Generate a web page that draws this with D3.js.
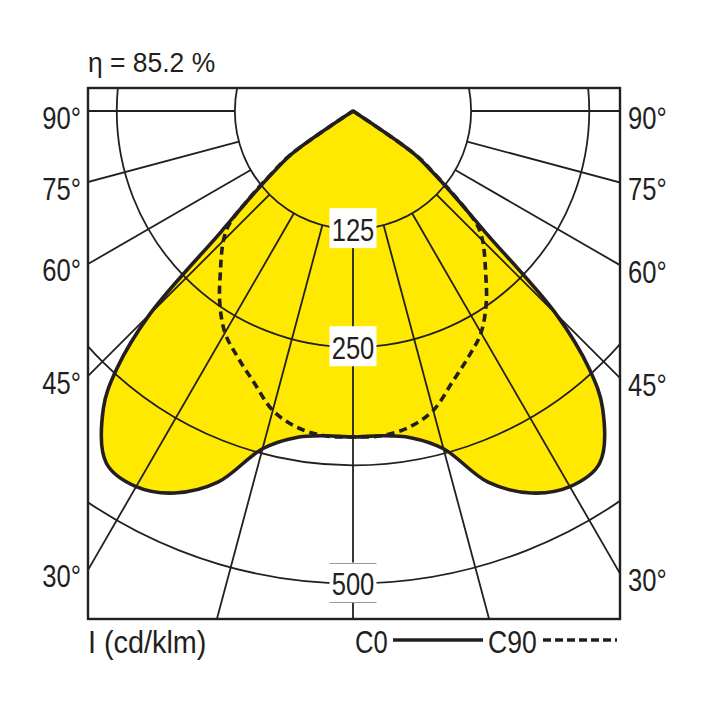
<!DOCTYPE html>
<html>
<head>
<meta charset="utf-8">
<script src="https://cdn.jsdelivr.net/npm/d3@7/dist/d3.min.js"></script>
<style>
  html, body { margin: 0; padding: 0; background: #fff; }
  svg { display: block; }
  text { font-family: "Liberation Sans", Arial, sans-serif; fill: #231f20; }
</style>
</head>
<body>
<svg id="chart" width="708" height="708"></svg>
<script>
// ---- data ----
const titleText = "η = 85.2 %";
const unitLabel = "I (cd/klm)";
const seriesNames = ["C0", "C90"];
const gridValues = [125, 250, 375, 500];
const ringLabels = [125, 250, 500];
const radialAngles = [0, 15, 30, 45, 60, 75, 90];
const angleLabels = [90, 75, 60, 45, 30];
const gammaDeg = [0, 5, 10, 15, 20, 25, 30, 35, 40, 42.5, 45, 47.5, 50, 52.5, 55, 57.5, 60, 65, 70, 75, 80, 85, 90];
const c0Values  = [345, 345, 351, 370, 418, 446, 459, 455, 411, 370, 304, 190, 140, 106, 79, 0, 0, 0, 0, 0, 0, 0, 0];
const c90Values = [345, 345, 340, 328, 306, 288, 271, 246, 218, 206, 194, 178, 142, 108, 81, 0, 0, 0, 0, 0, 0, 0, 0];

// ---- layout ----
const svg = d3.select("#chart");
const frame = { x0: 88, y0: 88, x1: 620, y1: 619 };
const cx = 353, cy = 111;
const ink = "#231f20";
const yellow = "#ffe900";
const r = d3.scaleLinear().domain([0, 500]).range([0, 472.5]);
const rad = d => d * Math.PI / 180;

function addText(parent, x, y, size, anchor, txt, sx = 0.8) {
  return parent.append("text")
    .attr("transform", `translate(${x},${y}) scale(${sx},1)`)
    .attr("text-anchor", anchor).attr("font-size", size).text(txt);
}

// polar (gamma from nadir, side +1 right / -1 left) -> cartesian
function pt(gamma, value, side) {
  const rr = r(value);
  return [cx + side * rr * Math.sin(rad(gamma)), cy + rr * Math.cos(rad(gamma))];
}

function curvePoints(values) {
  const pts = [];
  for (let i = gammaDeg.length - 1; i >= 0; i--) pts.push(pt(gammaDeg[i], values[i], 1));
  for (let i = 1; i < gammaDeg.length; i++) pts.push(pt(gammaDeg[i], values[i], -1));
  return pts.filter((p, i) => i === 0 || Math.hypot(p[0] - pts[i - 1][0], p[1] - pts[i - 1][1]) > 0.01);
}

const line = d3.line().curve(d3.curveCatmullRom.alpha(0.5));

svg.append("defs").append("clipPath").attr("id", "frameClip")
  .append("rect").attr("x", frame.x0).attr("y", frame.y0)
  .attr("width", frame.x1 - frame.x0).attr("height", frame.y1 - frame.y0);

// yellow fill (C0)
const c0Pts = curvePoints(c0Values);
svg.append("path").attr("d", line(c0Pts) + "Z").attr("fill", yellow).attr("stroke", "none");

// grid
const grid = svg.append("g").attr("clip-path", "url(#frameClip)")
  .attr("fill", "none").attr("stroke", ink).attr("stroke-width", 1.8);
grid.selectAll("circle").data(gridValues).join("circle")
  .attr("cx", cx).attr("cy", cy).attr("r", d => r(d));
const rays = [];
radialAngles.forEach(a => {
  rays.push([a, 1]);
  if (a !== 0) rays.push([a, -1]);
});
grid.selectAll("line").data(rays).join("line")
  .attr("x1", d => pt(d[0], gridValues[0], d[1])[0])
  .attr("y1", d => pt(d[0], gridValues[0], d[1])[1])
  .attr("x2", d => pt(d[0], 1200, d[1])[0])
  .attr("y2", d => pt(d[0], 1200, d[1])[1]);

// frame
svg.append("rect").attr("x", frame.x0).attr("y", frame.y0)
  .attr("width", frame.x1 - frame.x0).attr("height", frame.y1 - frame.y0)
  .attr("fill", "none").attr("stroke", ink).attr("stroke-width", 2.4);

// ring labels
const rl = svg.selectAll("g.ringlabel").data(ringLabels).join("g").attr("class", "ringlabel")
  .attr("transform", d => `translate(${cx},${cy + r(d)})`);
rl.append("rect").attr("x", -23.5).attr("y", -21).attr("width", 47).attr("height", 40).attr("fill", "#fff");
rl.filter(d => d === 500).append("line").attr("x1", -23.5).attr("x2", 23.5).attr("y1", -20).attr("y2", -20)
  .attr("stroke", "#9a9a9a").attr("stroke-width", 1);
rl.filter(d => d === 500).append("line").attr("x1", -23.5).attr("x2", 23.5).attr("y1", 19).attr("y2", 19)
  .attr("stroke", "#9a9a9a").attr("stroke-width", 1);
rl.each(function(d) { addText(d3.select(this), 0, 11.5, 32, "middle", d); });

// curves
svg.append("path").attr("d", line(c0Pts) + "Z").attr("fill", "none")
  .attr("stroke", ink).attr("stroke-width", 3.6).attr("stroke-linejoin", "round");
svg.append("path").attr("d", line(curvePoints(c90Values))).attr("fill", "none")
  .attr("stroke", ink).attr("stroke-width", 3.6).attr("stroke-dasharray", "8,5");

// angle labels
function edgeY(a, dx) {
  return a === 90 ? cy : cy + dx / Math.tan(rad(a));
}
angleLabels.forEach(a => {
  addText(svg, 81, edgeY(a, cx - frame.x0) + 17.5, 32, "end", a + "°");
  addText(svg, 628, edgeY(a, frame.x1 - cx) + 17.5, 32, "start", a + "°");
});

// title
addText(svg, 88, 72, 27, "start", titleText, 0.98);

// bottom
addText(svg, 88, 653, 32, "start", unitLabel, 0.9);
addText(svg, 355, 653, 32, "start", seriesNames[0]);
svg.append("line").attr("x1", 393).attr("x2", 483).attr("y1", 640).attr("y2", 640)
  .attr("stroke", ink).attr("stroke-width", 3.4);
addText(svg, 488, 653, 32, "start", seriesNames[1], 0.83);
svg.append("line").attr("x1", 543).attr("x2", 617).attr("y1", 640).attr("y2", 640)
  .attr("stroke", ink).attr("stroke-width", 3.4).attr("stroke-dasharray", "8,4");
</script>
</body>
</html>
